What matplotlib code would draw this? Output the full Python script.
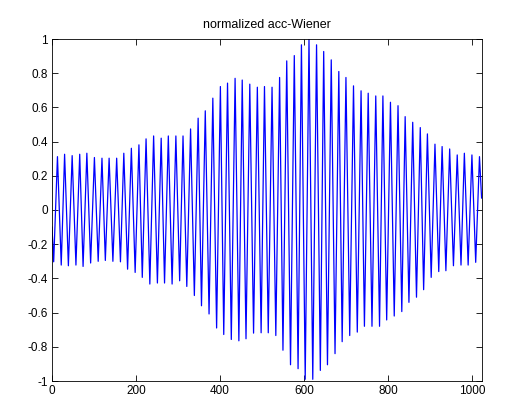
import matplotlib
matplotlib.use("Agg")
import matplotlib.pyplot as plt
import numpy as np

plt.rcParams['font.family'] = ['Liberation Sans', 'DejaVu Sans']
plt.rcParams['axes.unicode_minus'] = False

title = "normalized acc-Wiener"

# signal start / end samples
start_x, start_y = 0, -0.10
end_x, end_y = 1023, 0.07

# positive peaks (sample index, value)
peak_x = [13, 30, 48, 66, 83, 101, 119, 136, 154, 171, 189, 207, 224, 242, 260,
          277, 295, 312, 330, 348, 365, 383, 401, 418, 436, 453, 471, 489, 506,
          524, 542, 559, 577, 594, 612, 630, 647, 665, 683, 700, 718, 736, 753,
          771, 788, 806, 824, 841, 859, 877, 894, 912, 929, 947, 965, 982, 1000, 1018]
peak_y = [0.312, 0.326, 0.318, 0.326, 0.332, 0.307, 0.303, 0.303, 0.303, 0.332,
          0.361, 0.381, 0.416, 0.433, 0.420, 0.433, 0.433, 0.433, 0.474, 0.537,
          0.580, 0.654, 0.722, 0.742, 0.770, 0.760, 0.736, 0.718, 0.722, 0.718,
          0.775, 0.872, 0.903, 0.966, 1.000, 0.966, 0.927, 0.878, 0.810, 0.775,
          0.726, 0.697, 0.683, 0.667, 0.667, 0.630, 0.610, 0.546, 0.513, 0.482,
          0.445, 0.385, 0.371, 0.357, 0.322, 0.332, 0.322, 0.312]

# negative troughs (sample index, value)
trough_x = [4, 22, 39, 57, 74, 92, 110, 127, 145, 163, 180, 198, 215, 233, 251,
            268, 286, 304, 321, 339, 356, 374, 392, 409, 427, 445, 462, 480, 498,
            515, 533, 550, 568, 586, 603, 621, 639, 656, 674, 691, 709, 727, 744,
            762, 780, 797, 815, 833, 850, 868, 885, 903, 921, 938, 956, 974, 991, 1009]
trough_y = [-0.303, -0.322, -0.326, -0.322, -0.330, -0.310, -0.300, -0.295, -0.300,
            -0.303, -0.346, -0.365, -0.394, -0.433, -0.427, -0.427, -0.433, -0.414,
            -0.447, -0.500, -0.560, -0.608, -0.690, -0.728, -0.757, -0.765, -0.753,
            -0.720, -0.718, -0.718, -0.734, -0.820, -0.905, -0.928, -0.990, -0.990,
            -0.938, -0.905, -0.840, -0.770, -0.734, -0.714, -0.680, -0.680, -0.680,
            -0.643, -0.620, -0.594, -0.540, -0.510, -0.466, -0.394, -0.360, -0.355,
            -0.326, -0.322, -0.322, -0.306]

xs = [start_x]
ys = [start_y]
for tx, ty, px, py in zip(trough_x, trough_y, peak_x, peak_y):
    xs += [tx, px]
    ys += [ty, py]
xs.append(end_x)
ys.append(end_y)

x_ticks = [0, 200, 400, 600, 800, 1000]
y_ticks = [-1, -0.8, -0.6, -0.4, -0.2, 0, 0.2, 0.4, 0.6, 0.8, 1]
y_tick_labels = ["-1", "-0.8", "-0.6", "-0.4", "-0.2", "0", "0.2", "0.4", "0.6", "0.8", "1"]

fig = plt.figure(figsize=(5.05, 4.09), dpi=100)
ax = fig.add_axes([52/505, 1 - 381/409, (482-52)/505, (381-39)/409])
ax.plot(xs, ys, color=(0, 0, 1), lw=0.9)
ax.set_xlim(0, 1024)
ax.set_ylim(-1, 1)
ax.set_xticks(x_ticks)
ax.set_xticklabels([str(v) for v in x_ticks])
ax.set_yticks(y_ticks)
ax.set_yticklabels(y_tick_labels)
ax.tick_params(direction='in', length=4, width=0.6, labelsize=8.5, top=True, right=True,
               pad=3, colors='black')
for s in ax.spines.values():
    s.set_linewidth(0.6)
ax.set_title(title, fontsize=9, pad=8)
fig.savefig("out.png", dpi=100)
